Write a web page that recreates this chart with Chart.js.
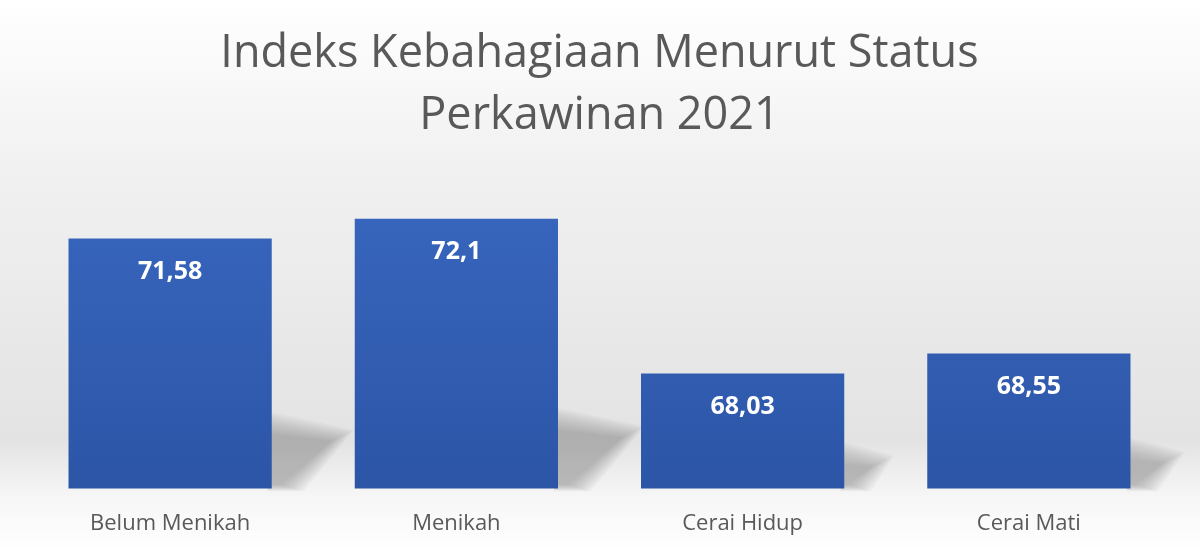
<!DOCTYPE html>
<html>
<head>
<meta charset="utf-8">
<script src="https://cdn.jsdelivr.net/npm/chart.js@4.4.1/dist/chart.umd.min.js"></script>
<style>
  body { margin: 0; background: #fff; }
  #wrap { width: 1200px; height: 551px; }
</style>
</head>
<body>
<div id="wrap"><canvas id="myBarChart" width="1200" height="551"></canvas></div>
<script>
var labels = ['Belum Menikah', 'Menikah', 'Cerai Hidup', 'Cerai Mati'];
var values = [71.58, 72.1, 68.03, 68.55];
var titleLines = ['Indeks Kebahagiaan Menurut Status', 'Perkawinan 2021'];

// grey backdrop
var backdrop = {
  id: 'backdrop',
  beforeDraw: function(chart) {
    var ctx = chart.ctx, h = chart.height;
    var g = ctx.createLinearGradient(0, 0, 0, h);
    g.addColorStop(0, '#ffffff');
    g.addColorStop(0.3, '#f1f1f1');
    g.addColorStop(0.8, '#e3e3e3');
    g.addColorStop(0.9, '#f6f6f6');
    g.addColorStop(1, '#ffffff');
    ctx.save();
    ctx.fillStyle = g;
    ctx.fillRect(0, 0, chart.width, h);
    ctx.restore();
  }
};

// soft floor shadow right of every bar, built from stacked faint polygons
// (bar.base sits at value 0, far below the axis min, so clamp it to the chart area)
var barShadow = {
  id: 'barShadow',
  beforeDatasetsDraw: function(chart) {
    var ctx = chart.ctx;
    var floor = chart.chartArea.bottom;
    chart.getDatasetMeta(0).data.forEach(function(bar) {
      var r = bar.x + bar.width / 2;
      var base = Math.min(bar.base, floor);
      var bh = base - bar.y;
      var steps = 10;
      ctx.save();
      for (var k = steps; k >= 0; k--) {
        var e = k * 2.2;
        ctx.fillStyle = 'rgba(120,120,120,0.05)';
        ctx.beginPath();
        ctx.moveTo(r - 4, base - 4 + e * 0.3);
        ctx.lineTo(r - 4, base - bh * 0.22 - e);
        ctx.lineTo(r + bh * 0.24 + e, base - bh * 0.19 - e * 0.5);
        ctx.lineTo(r + bh * 0.04 + e, base - 4 + e * 0.3);
        ctx.closePath();
        ctx.fill();
      }
      ctx.restore();
    });
  }
};

// white numbers inside the bar tops
var valueLabels = {
  id: 'valueLabels',
  afterDatasetsDraw: function(chart) {
    var ctx = chart.ctx;
    ctx.save();
    ctx.font = 'bold 25px "Open Sans"';
    ctx.fillStyle = '#ffffff';
    ctx.textAlign = 'center';
    ctx.textBaseline = 'middle';
    chart.getDatasetMeta(0).data.forEach(function(bar, i) {
      ctx.fillText(String(values[i]).replace('.', ','), bar.x, bar.y + 33);
    });
    ctx.restore();
  }
};

function barFill(context) {
  var chart = context.chart, area = chart.chartArea;
  if (!area) return '#3462b8';
  var g = chart.ctx.createLinearGradient(0, area.top, 0, area.bottom);
  g.addColorStop(0, '#3a69c2');
  g.addColorStop(1, '#2c55a6');
  return g;
}

new Chart(document.getElementById('myBarChart'), {
  type: 'bar',
  data: {
    labels: labels,
    datasets: [{
      data: values,
      backgroundColor: barFill,
      borderWidth: 0,
      categoryPercentage: 0.71,
      barPercentage: 1
    }]
  },
  options: {
    responsive: false,
    animation: false,
    layout: {
      padding: { left: 27, right: 28, top: 0, bottom: 0 }
    },
    plugins: {
      legend: { display: false },
      tooltip: { enabled: false },
      title: {
        display: true,
        text: titleLines,
        color: '#595959',
        font: { family: '"Open Sans"', size: 45, weight: 'normal', lineHeight: 1.36 },
        padding: { top: 24, bottom: 0 }
      }
    },
    scales: {
      y: {
        display: false,
        min: 65,
        max: 74
      },
      x: {
        grid: { display: false },
        border: { display: false },
        ticks: {
          color: '#595959',
          padding: 14,
          font: { family: '"Open Sans"', size: 22 }
        }
      }
    }
  },
  plugins: [backdrop, barShadow, valueLabels]
});
</script>
</body>
</html>
